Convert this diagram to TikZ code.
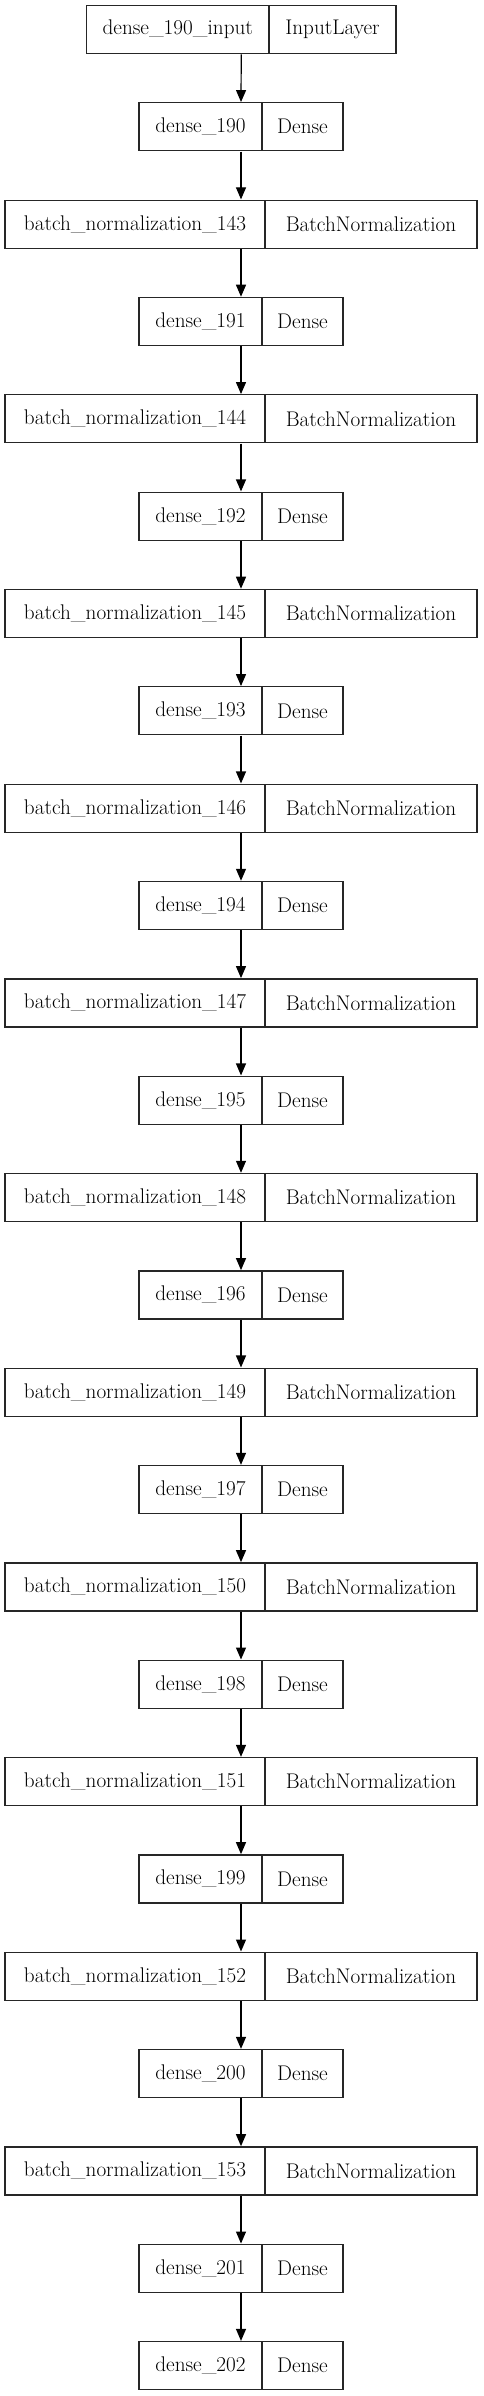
\documentclass[tikz,border=0pt]{standalone}
\usepackage{fontspec}
\usetikzlibrary{arrows.meta,fit}
\begin{document}
\begin{tikzpicture}[x=1pt,y=-1pt,
  cell/.style={draw=black!85,line width=1.2pt,minimum height=48pt,inner sep=0pt,
    font=\fontsize{21.2}{24}\selectfont},
  whole/.style={inner sep=0pt,draw=none},
  arr/.style={line width=1.2pt,-{Triangle[length=12pt,width=10pt]}}]
\useasboundingbox (0,0) rectangle (483,2396);
% input layer
\node[cell,minimum width=182.5pt] (r0L) at (177.75,29.5) {dense\_190\_input};
\node[cell,minimum width=127pt] (r0R) at (332.5,29.5) {InputLayer};
\node[whole,fit=(r0L)(r0R)] (r0) {};
% dense / batch-norm pairs
\foreach \k [evaluate=\k as \rd using int(1+2*\k), evaluate=\k as \rb using int(2+2*\k),
             evaluate=\k as \dn using int(190+\k), evaluate=\k as \bn using int(143+\k)] in {0,...,10} {
  \node[cell,minimum width=123pt] (r\rd L) at (200.5,{29.5+97.34*\rd}) {dense\_\dn};
  \node[cell,minimum width=81pt] (r\rd R) at (302.5,{29.5+97.34*\rd}) {Dense};
  \node[whole,fit=(r\rd L)(r\rd R)] (r\rd) {};
  \node[cell,minimum width=260pt] (r\rb L) at (135,{29.5+97.34*\rb}) {batch\_normalization\_\bn};
  \node[cell,minimum width=212pt] (r\rb R) at (371,{29.5+97.34*\rb}) {BatchNormalization};
  \node[whole,fit=(r\rb L)(r\rb R)] (r\rb) {};
}
\node[cell,minimum width=123pt] (r23L) at (200.5,{29.5+97.34*23}) {dense\_201};
\node[cell,minimum width=81pt] (r23R) at (302.5,{29.5+97.34*23}) {Dense};
\node[whole,fit=(r23L)(r23R)] (r23) {};
\node[cell,minimum width=123pt] (r24L) at (200.5,{29.5+97.34*24}) {dense\_202};
\node[cell,minimum width=81pt] (r24R) at (302.5,{29.5+97.34*24}) {Dense};
\node[whole,fit=(r24L)(r24R)] (r24) {};
% connectors
\foreach \i [evaluate=\i as \j using int(\i+1)] in {0,...,23} {
  \draw[arr] (r\i.south) -- (r\j.north);
}
\end{tikzpicture}
\end{document}
